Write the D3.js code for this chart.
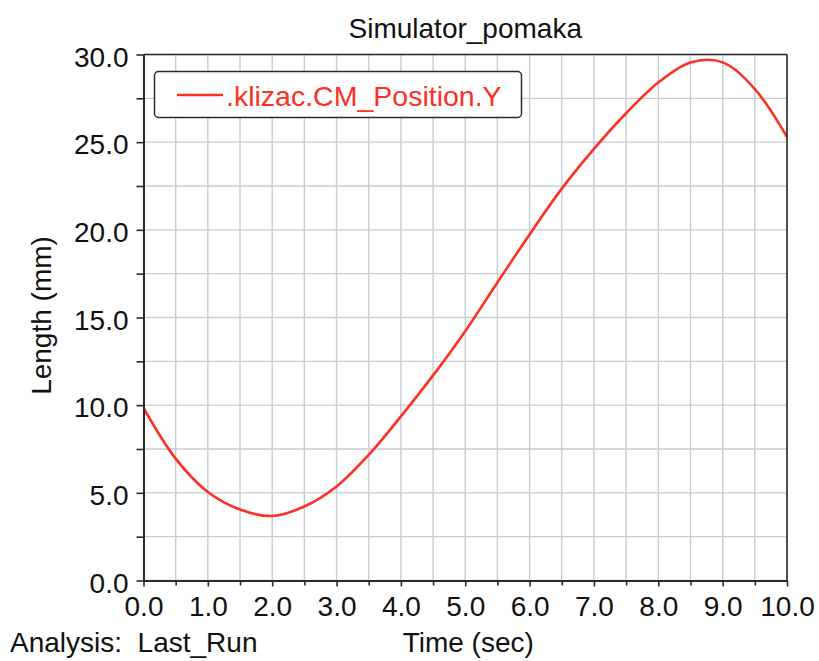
<!DOCTYPE html>
<html>
<head>
<meta charset="utf-8">
<script src="https://cdn.jsdelivr.net/npm/d3@7"></script>
<style>
  html, body { margin: 0; padding: 0; background: #ffffff; }
  svg { display: block; }
  text { font-family: "Liberation Sans", Arial, sans-serif; }
</style>
</head>
<body>
<svg id="chart" width="819" height="661"></svg>
<script>
// ---- data ----
const chartTitle = "Simulator_pomaka";
const seriesName = ".klizac.CM_Position.Y";
const xLabel = "Time (sec)";
const yLabel = "Length (mm)";
const analysisLabel = "Analysis:  Last_Run";

const timeValues = [0.0, 0.5, 1.0, 1.5, 2.0, 2.5, 3.0, 3.5, 4.0, 4.5, 5.0,
                    5.5, 6.0, 6.5, 7.0, 7.5, 8.0, 8.5, 9.0, 9.5, 10.0];
const positionValues = [9.84, 6.95, 5.05, 4.05, 3.68, 4.22, 5.36, 7.17, 9.36, 11.70, 14.22,
                        17.00, 19.74, 22.35, 24.62, 26.65, 28.40, 29.55, 29.55, 28.03, 25.30];

const xMajorTicks = [0, 1, 2, 3, 4, 5, 6, 7, 8, 9, 10];
const xMinorTicks = [0.5, 1.5, 2.5, 3.5, 4.5, 5.5, 6.5, 7.5, 8.5, 9.5];
const yMajorTicks = [0, 5, 10, 15, 20, 25, 30];
const yMinorTicks = [2.5, 7.5, 12.5, 17.5, 22.5, 27.5];

// ---- layout ----
const pLeft = 143.5, pRight = 787, pTop = 54.5, pBottom = 580.5;
const lineColor = "#ff2f24";
const gridColor = "#c6cdd4";
const axisColor = "#2a2a2a";
const fontSize = 28;

const svg = d3.select("#chart");
const x = d3.scaleLinear().domain([0, 10]).range([pLeft, pRight]);
const y = d3.scaleLinear().domain([0, 30]).range([pBottom, pTop]);

// grid
const gridX = xMajorTicks.concat(xMinorTicks);
const gridY = yMajorTicks.concat(yMinorTicks);
svg.append("g").selectAll("line").data(gridX).join("line")
  .attr("x1", d => x(d)).attr("x2", d => x(d))
  .attr("y1", pTop).attr("y2", pBottom)
  .attr("stroke", gridColor).attr("stroke-width", 1.4);
svg.append("g").selectAll("line").data(gridY).join("line")
  .attr("x1", pLeft).attr("x2", pRight)
  .attr("y1", d => y(d)).attr("y2", d => y(d))
  .attr("stroke", gridColor).attr("stroke-width", 1.4);

// clip
svg.append("clipPath").attr("id", "plotClip").append("rect")
  .attr("x", pLeft).attr("y", pTop).attr("width", pRight - pLeft).attr("height", pBottom - pTop);

// line
const pts = timeValues.map((t, i) => [t, positionValues[i]]);
svg.append("path")
  .datum(pts)
  .attr("clip-path", "url(#plotClip)")
  .attr("fill", "none")
  .attr("stroke", lineColor)
  .attr("stroke-width", 2.6)
  .attr("stroke-linejoin", "round")
  .attr("d", d3.line().x(d => x(d[0])).y(d => y(d[1])).curve(d3.curveCatmullRom));

// frame (top and right)
svg.append("line").attr("x1", pLeft).attr("x2", pRight).attr("y1", pTop).attr("y2", pTop)
  .attr("stroke", axisColor).attr("stroke-width", 1.6);
svg.append("line").attr("x1", pRight).attr("x2", pRight).attr("y1", pTop).attr("y2", pBottom)
  .attr("stroke", axisColor).attr("stroke-width", 1.6);

// axes
const fmt = d3.format(".1f");
const xAxis = svg.append("g").attr("transform", `translate(0,${pBottom})`)
  .call(d3.axisBottom(x).tickValues(xMajorTicks).tickFormat(fmt).tickSize(6).tickPadding(9).tickSizeOuter(0));
const xMinor = svg.append("g").attr("transform", `translate(0,${pBottom})`)
  .call(d3.axisBottom(x).tickValues(xMinorTicks).tickFormat("").tickSize(5).tickSizeOuter(0));
const yAxis = svg.append("g").attr("transform", `translate(${pLeft},0)`)
  .call(d3.axisLeft(y).tickValues(yMajorTicks).tickFormat(fmt).tickSize(7).tickPadding(8).tickSizeOuter(0));
const yMinor = svg.append("g").attr("transform", `translate(${pLeft},0)`)
  .call(d3.axisLeft(y).tickValues(yMinorTicks).tickFormat("").tickSize(7).tickSizeOuter(0));

[xAxis, xMinor, yAxis, yMinor].forEach(g => {
  g.select(".domain").attr("stroke", axisColor).attr("stroke-width", 1.8);
  g.selectAll(".tick line").attr("stroke", axisColor).attr("stroke-width", 1.6);
  g.selectAll(".tick text")
    .attr("fill", "#111")
    .style("font-family", '"Liberation Sans", Arial, sans-serif')
    .style("font-size", fontSize + "px");
});
yAxis.selectAll(".tick text").attr("dy", "0.42em");
xAxis.selectAll(".tick text").attr("dy", "0.72em");

// title
svg.append("text").attr("x", (pLeft + pRight) / 2).attr("y", 38)
  .attr("text-anchor", "middle").attr("fill", "#111")
  .style("font-size", fontSize + "px").text(chartTitle);

// y label
svg.append("text")
  .attr("transform", `translate(51,${(pTop + pBottom) / 2 - 2}) rotate(-90)`)
  .attr("text-anchor", "middle").attr("fill", "#111")
  .style("font-size", fontSize + "px").text(yLabel);

// bottom labels
svg.append("text").attr("x", 10).attr("y", 652)
  .attr("fill", "#111").style("font-size", fontSize + "px")
  .style("white-space", "pre").attr("xml:space", "preserve").text(analysisLabel);
svg.append("text").attr("x", (pLeft + pRight) / 2 + 3).attr("y", 652)
  .attr("text-anchor", "middle").attr("fill", "#111")
  .style("font-size", fontSize + "px").text(xLabel);

// legend
const lg = svg.append("g");
lg.append("rect").attr("x", 154.5).attr("y", 71.5).attr("width", 367).attr("height", 46)
  .attr("rx", 4).attr("fill", "#ffffff").attr("stroke", axisColor).attr("stroke-width", 1.5);
lg.append("line").attr("x1", 177).attr("x2", 223).attr("y1", 95).attr("y2", 95)
  .attr("stroke", lineColor).attr("stroke-width", 2.4);
lg.append("text").attr("x", 226).attr("y", 105.5)
  .attr("fill", lineColor).style("font-size", "28.5px").text(seriesName);
</script>
</body>
</html>
